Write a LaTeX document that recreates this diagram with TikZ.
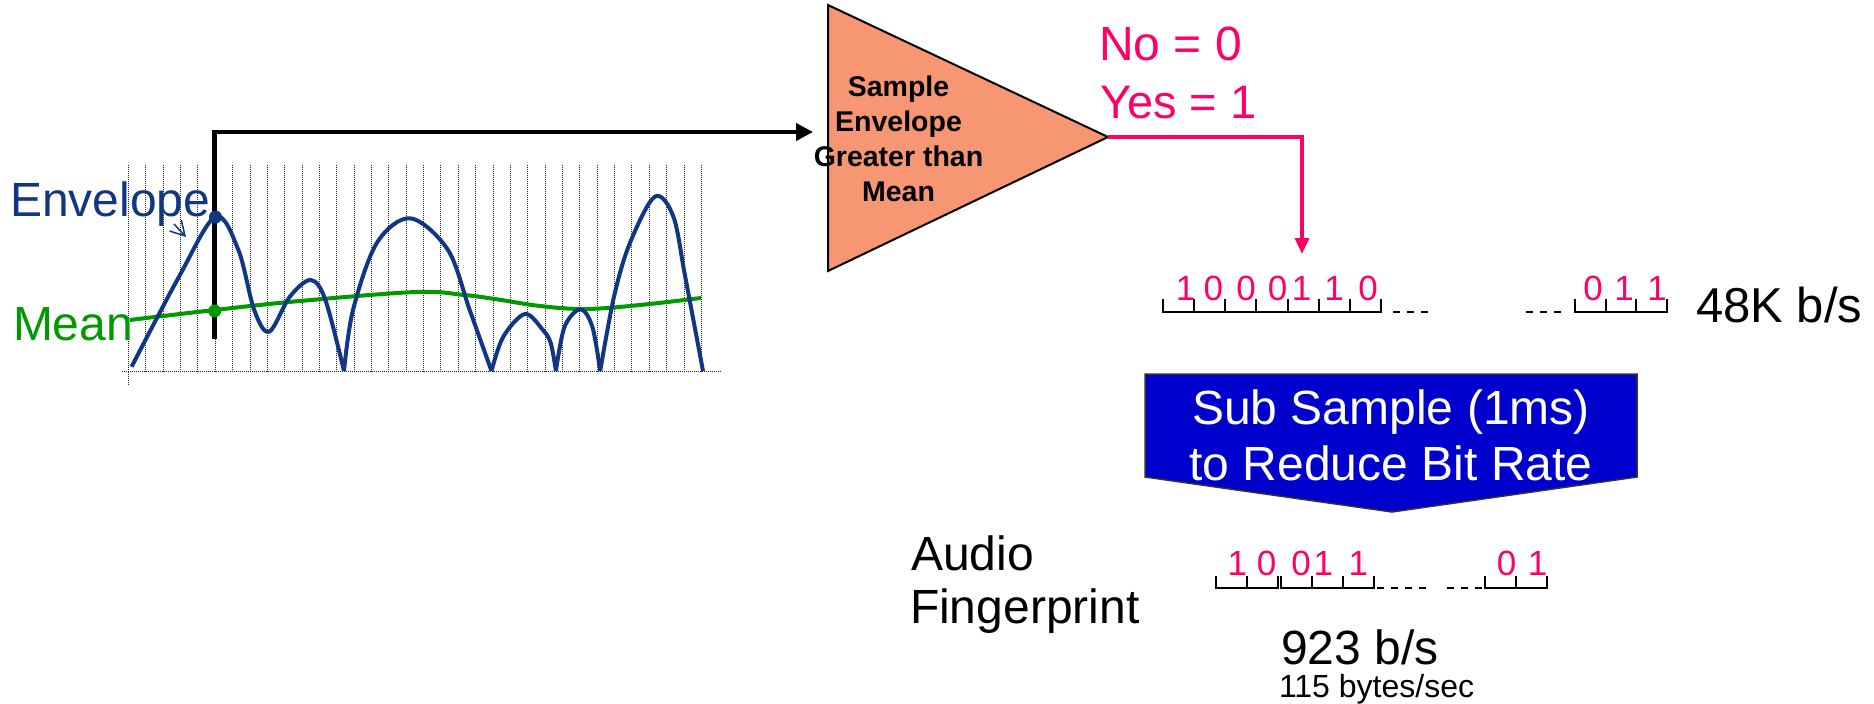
\documentclass[tikz,border=0pt]{standalone}
\usepackage{fontspec}
\setmainfont{Liberation Sans}
\usetikzlibrary{arrows.meta}

\definecolor{envblue}{RGB}{16,54,132}
\definecolor{meangreen}{RGB}{0,153,0}
\definecolor{bitpink}{RGB}{255,0,102}
\definecolor{salmon}{RGB}{247,150,114}
\definecolor{boxblue}{RGB}{0,0,204}

\newcommand{\setfs}[1]{\fontsize{#1}{#1}\selectfont}

\begin{document}
\begin{tikzpicture}[x=1pt,y=-1pt,
  lbl/.style={inner sep=0pt, outer sep=0pt},
  big/.style={lbl, font=\setfs{48}},
  bit/.style={lbl, text=bitpink, font=\setfs{35}, anchor=base},
  tritext/.style={lbl, font=\setfs{28.5}\bfseries, anchor=base},
  boxtext/.style={lbl, text=white, font=\setfs{48}, anchor=base},
  gridline/.style={black!85, line width=1pt, dash pattern=on 1pt off 1pt},
  strip/.style={black, line width=2pt},
  stripdash/.style={black, line width=2pt, dash pattern=on 7pt off 7pt},
  curve/.style={line width=4pt, line join=round}
]
\useasboundingbox (0,0) rectangle (1874,704);

% ---------- sampling grid ----------
\foreach \i in {0,...,33}
  \draw[gridline] ({128.5+17.36*\i},165) -- ({128.5+17.36*\i},371.5);
\draw[gridline] (128.5,371.5) -- (128.5,385);
\draw[gridline] (121.7,371.5) -- (720,371.5);

% ---------- probe line into the comparator ----------
\coordinate (probe) at (214.7,339);
\coordinate (tri-in) at (813,132);
\draw[line width=4.5pt, line join=miter, -{Triangle[length=17pt,width=17pt]}] (probe) |- (tri-in);

% ---------- mean ----------
\draw[curve, meangreen] plot[smooth, tension=0.6] coordinates
  {(129.7,320) (214.7,310) (300,301) (416,292) (464,295) (495,299) (540,306) (586,309) (640,305) (701,298)};

% ---------- envelope ----------
\draw[curve, envblue] plot[smooth, tension=0.55] coordinates
  {(131.6,366.7) (179,276.7) (215.5,216.7) (238.4,250) (254.2,310) (269.2,331.7) (289.8,296.7) (310.8,280) (325.4,300) (344,371)};
\draw[curve, envblue] plot[smooth, tension=0.55] coordinates
  {(344,371) (353,310) (376.8,243) (410.4,218.3) (448,250) (469.7,310) (491.5,371)};
\draw[curve, envblue] plot[smooth, tension=0.55] coordinates
  {(491.5,371) (503.3,336.7) (525,314) (542.9,330) (550.8,343.3) (555.9,371)};
\draw[curve, envblue] plot[smooth, tension=0.55] coordinates
  {(555.9,371) (564.6,326.7) (580.4,309.3) (592.3,326.7) (600.2,371)};
\draw[curve, envblue] plot[smooth, tension=0.55] coordinates
  {(600.2,371) (614,296.7) (629.8,243.3) (654.8,196.7) (673.4,216.7) (685.2,276.7) (703,371)};

\fill[envblue] (215.5,217) circle[radius=6.5pt];
\fill[meangreen] (214.7,311) circle[radius=6.5pt];

% ---------- labels of the signals ----------
\node[big, text=envblue, anchor=base west] (envlabel) at (10,216.7) {Envelope};
\node[big, text=meangreen, anchor=base west] (meanlabel) at (13,340) {Mean};
\coordinate (env-from) at (174,224);
\coordinate (env-to) at (186,237);
\draw[envblue, line width=1.5pt, -{Straight Barb[length=14pt,width=16pt]}] (env-from) -- (env-to);

% ---------- comparator ----------
\coordinate (tri-a) at (828,5);
\coordinate (tri-b) at (828,271);
\coordinate (tri-apex) at (1108,137);
\filldraw[fill=salmon, draw=black, line width=2pt] (tri-a) -- (tri-apex) -- (tri-b) -- cycle;
\node[tritext] (tt1) at (898.5,96) {Sample};
\node[tritext] (tt2) at (898.5,131) {Envelope};
\node[tritext] (tt3) at (898.5,166) {Greater than};
\node[tritext] (tt4) at (898.5,201) {Mean};

\node[big, text=bitpink, anchor=base west] (no) at (1099,60.7) {No = 0};
\node[big, text=bitpink, anchor=base west, font=\setfs{47}] (yes) at (1100,118.3) {Yes = 1};

\coordinate (strip1-in) at (1302,254);
\draw[bitpink, line width=3.5pt, -{Triangle[length=16pt,width=14pt]}] (tri-apex) -| (strip1-in);

% ---------- 48K b/s bit stream ----------
\draw[strip] (1163.3,299.3) |- (1380.7,311.7) -- (1380.7,299.3);
\foreach \k in {1,...,6}
  \draw[strip] ({1163.3+31.06*\k},299.3) -- ++(0,12.4);
\draw[stripdash] (1393,311.7) -- (1431,311.7);
\draw[stripdash] (1526,311.7) -- (1566,311.7);
\draw[strip] (1575,299.3) |- (1666.7,311.7) -- (1666.7,299.3);
\foreach \k in {1,2}
  \draw[strip] ({1575+30.56*\k},299.3) -- ++(0,12.4);

\foreach \b/\x [count=\n] in {1/1185.7,0/1213.3,0/1246,0/1277.7,1/1301.7,1/1334,0/1368,0/1593,1/1624,1/1657}
  \node[bit] (sa\n) at (\x,300) {\b};

\node[big, anchor=base west, font=\setfs{49}] (rate1) at (1696,322.7) {48K b/s};

% ---------- sub-sampling block ----------
\filldraw[fill=boxblue, draw=black!80, line width=1.5pt]
  (1145,374) -- (1637,374) -- (1637,477) -- (1392,512) -- (1145,477) -- cycle;
\node[boxtext] (sub1) at (1391,424) {Sub Sample (1ms)};
\node[boxtext] (sub2) at (1391,480.7) {to Reduce Bit Rate};

% ---------- fingerprint bit stream ----------
\node[big, anchor=base west] (audio) at (911,570) {Audio};
\node[big, anchor=base west] (finger) at (910,623.5) {Fingerprint};

\draw[strip] (1215.7,575.7) |- (1277.7,588.3) -- (1277.7,575.7);
\draw[strip] (1246.7,575.7) -- ++(0,12.6);
\draw[strip] (1281,575.7) |- (1374,588.3) -- (1374,575.7);
\draw[strip] (1311.7,575.7) -- ++(0,12.6);
\draw[strip] (1343.3,575.7) -- ++(0,12.6);
\draw[stripdash] (1377,588.3) -- (1428,588.3);
\draw[stripdash] (1446.7,588.3) -- (1483,588.3);
\draw[strip] (1485,575.7) |- (1546.7,588.3) -- (1546.7,575.7);
\draw[strip] (1515.7,575.7) -- ++(0,12.6);

\foreach \b/\x [count=\n] in {1/1237.3,0/1266.7,0/1301,1/1323.3,1/1358.3,0/1506.7,1/1537.7}
  \node[bit] (sb\n) at (\x,575.5) {\b};

\node[big, anchor=base west] (rate2) at (1281,664) {923 b/s};
\node[lbl, font=\setfs{32}, anchor=base west] (bytes) at (1279,697) {115 bytes/sec};
\end{tikzpicture}
\end{document}
